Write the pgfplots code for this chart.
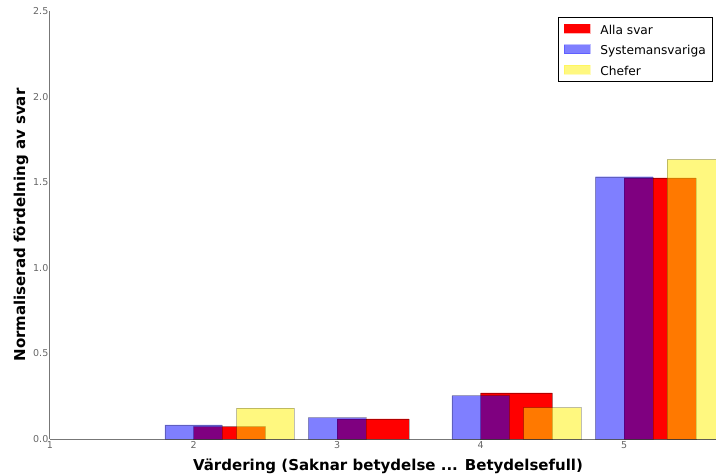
\documentclass[border=0pt]{standalone}
\usepackage{fontspec}
\setmainfont{DejaVu Sans}
\usepackage{pgfplots}
\pgfplotsset{compat=1.18}
\definecolor{ticklab}{HTML}{666666}
\definecolor{spine}{HTML}{777777}
\begin{document}
\begin{tikzpicture}
\path[use as bounding box] (-50pt,-36pt) rectangle (666pt,439pt);
\clip (-50pt,-36pt) rectangle (666pt,439pt);
\begin{axis}[
  at={(0pt,0pt)}, anchor=south west,
  scale only axis, width=666pt, height=428pt,
  xmin=1, xmax=5.64, ymin=0, ymax=2.5,
  axis lines=left,
  axis line style={-, spine, line width=1pt},
  xtick={1,2,3,4,5},
  ytick={0,0.5,1,1.5,2,2.5},
  yticklabel style={/pgf/number format/fixed, /pgf/number format/fixed zerofill, /pgf/number format/precision=1, inner sep=1.5pt},
  xticklabel style={inner sep=2.5pt},
  /pgf/number format/assume math mode=true,
  tick label style={font=\fontsize{9.5}{11}\selectfont, text=ticklab},
  major tick length=0pt,
  xlabel={Värdering (Saknar betydelse ... Betydelsefull)},
  ylabel={Normaliserad fördelning av svar},
  every axis x label/.style={at={(rel axis cs:0.5075,-0.0736)}, anchor=base, font=\fontsize{15}{17}\selectfont\bfseries},
  every axis y label/.style={at={(rel axis cs:-0.0375,0.5)}, anchor=base, rotate=90, font=\fontsize{15}{17}\selectfont\bfseries},
  legend cell align=left,
  legend style={at={(rel axis cs:1,1)}, anchor=north east, xshift=-4pt, yshift=-6pt,
    draw=black, fill=white, font=\fontsize{12.2}{14}\selectfont,
    inner xsep=5.5pt, inner ysep=2pt, row sep=1.7pt, column sep=10pt,
    nodes={inner sep=0.5pt, text height=14.4pt, text depth=3.4pt}},
]
\addplot[ybar, bar width=0.5, bar shift=0.25, fill=red, draw=black, draw opacity=0.3,
  legend image code/.code={\fill[red] (0pt,-4.5pt) rectangle (25.5pt,4.5pt);}]
  coordinates {(2,0.072) (3,0.117) (4,0.270) (5,1.525)};
\addlegendentry{Alla svar}
\addplot[ybar, bar width=0.4, bar shift=0, fill=blue, fill opacity=0.5, draw=black, draw opacity=0.25,
  legend image code/.code={\fill[blue, fill opacity=0.5] (0pt,-4.5pt) rectangle (25.5pt,4.5pt);}]
  coordinates {(2,0.082) (3,0.125) (4,0.253) (5,1.532)};
\addlegendentry{Systemansvariga}
\addplot[ybar, bar width=0.4, bar shift=0.5, fill=yellow, fill opacity=0.5, draw=black, draw opacity=0.25,
  legend image code/.code={\fill[yellow, fill opacity=0.5] (0pt,-4.5pt) rectangle (25.5pt,4.5pt);}]
  coordinates {(2,0.180) (4,0.183) (5,1.634)};
\addlegendentry{Chefer}
\end{axis}
\end{tikzpicture}
\end{document}
